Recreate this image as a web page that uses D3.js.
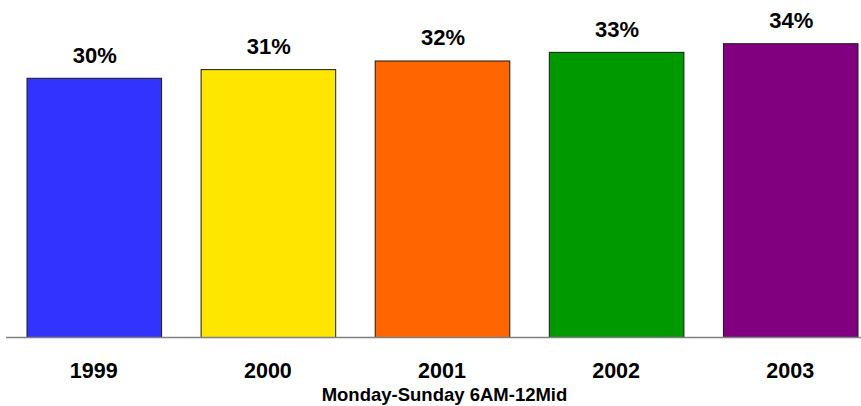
<!DOCTYPE html>
<html>
<head>
<meta charset="utf-8">
<script src="https://cdn.jsdelivr.net/npm/d3@7"></script>
<style>
  html, body { margin: 0; padding: 0; background: #fff; }
  svg { display: block; }
  text { font-family: Arial, "Liberation Sans", Helvetica, sans-serif; font-weight: bold; fill: #000; }
</style>
</head>
<body>
<svg id="chart" width="861" height="406"></svg>
<script>
const years = ["1999", "2000", "2001", "2002", "2003"];
const shares = [30, 31, 32, 33, 34];
const valueLabels = ["30%", "31%", "32%", "33%", "34%"];
const barColors = ["#3333FF", "#FFE600", "#FF6600", "#009900", "#800080"];
const subtitle = "Monday-Sunday 6AM-12Mid";

const svg = d3.select("#chart");
const baseY = 337;

const x = d3.scaleBand()
  .domain(years)
  .range([7, 877])
  .paddingInner(0.227)
  .paddingOuter(0.112);

const y = d3.scaleLinear()
  .domain([0, 39])
  .range([baseY, 0]);

const data = years.map((yr, i) => ({ yr, v: shares[i], label: valueLabels[i], color: barColors[i] }));

svg.selectAll("rect.bar")
  .data(data)
  .join("rect")
  .attr("class", "bar")
  .attr("x", d => x(d.yr) + 0.5)
  .attr("y", d => y(d.v) + 0.5)
  .attr("width", x.bandwidth())
  .attr("height", d => baseY - y(d.v))
  .attr("fill", d => d.color)
  .attr("stroke", "#1a1a1a")
  .attr("stroke-width", 1);

// baseline axis
const axis = d3.axisBottom(x).tickSize(0).tickPadding(0).tickFormat("");
const axG = svg.append("g").attr("transform", `translate(0,${baseY + 0.5})`).call(axis);
axG.select(".domain").remove();
axG.append("line")
  .attr("x1", 6).attr("x2", 861)
  .attr("stroke", "#808080").attr("stroke-width", 1.5);

// value labels
svg.selectAll("text.val")
  .data(data)
  .join("text")
  .attr("class", "val")
  .attr("x", d => x(d.yr) + x.bandwidth() / 2 + 1)
  .attr("y", d => y(d.v) - 15)
  .attr("text-anchor", "middle")
  .style("font-size", "22px")
  .text(d => d.label);

// category labels
svg.selectAll("text.cat")
  .data(years)
  .join("text")
  .attr("class", "cat")
  .attr("x", d => x(d) + x.bandwidth() / 2)
  .attr("y", 378)
  .attr("text-anchor", "middle")
  .style("font-size", "21.5px")
  .text(d => d);

svg.append("text")
  .attr("x", 444.5)
  .attr("y", 401)
  .attr("text-anchor", "middle")
  .style("font-size", "18.5px")
  .text(subtitle);
</script>
</body>
</html>
